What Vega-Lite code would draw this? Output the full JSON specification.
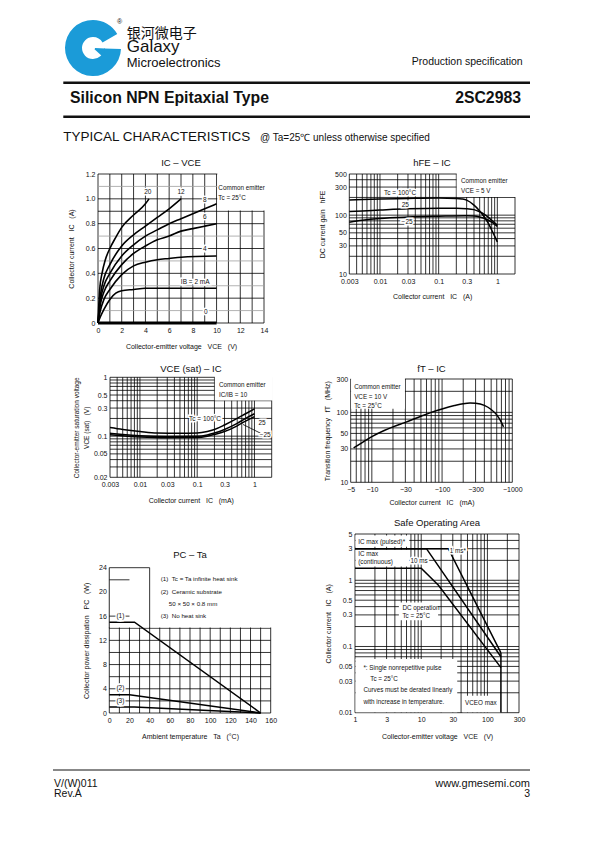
{
"$schema": "https://vega.github.io/schema/vega-lite/v6.json",
"padding": 0,
"background": "white",
"spacing": 0,
"bounds": "flush",
"config": {
  "view": {"stroke": null},
  "font": "Liberation Sans",
  "axis": {"labelFont": "Liberation Sans", "titleFont": "Liberation Sans", "labelFontSize": 7, "titleFontSize": 7, "titleFontWeight": "normal", "labelColor": "#111", "titleColor": "#111", "ticks": false, "domain": false, "grid": false, "labelPadding": 3, "labelFlush": false, "labelOverlap": false},
  "title": {"font": "Liberation Sans", "fontWeight": "normal", "color": "#111", "orient": "top", "frame": "group", "baseline": "alphabetic"},
  "text": {"font": "Liberation Sans", "color": "#111"}
},
"datasets": {
  "one": [{}],
  "g1v": [{"x":0,"y":0,"y2":1.2},{"x":1,"y":0,"y2":1.2},{"x":2,"y":0,"y2":1.2},{"x":3,"y":0,"y2":1.2},{"x":4,"y":0,"y2":1.2},{"x":5,"y":0,"y2":1.2},{"x":6,"y":0,"y2":1.2},{"x":7,"y":0,"y2":1.2},{"x":8,"y":0,"y2":1.2},{"x":9,"y":0,"y2":1.2},{"x":10,"y":0,"y2":1.2},{"x":11,"y":0,"y2":1.2},{"x":12,"y":0,"y2":1.2},{"x":13,"y":0,"y2":1.2},{"x":14,"y":0,"y2":1.2}],
  "g1hk": [{"y":0,"x":0,"x2":14},{"y":0.2,"x":0,"x2":14},{"y":0.4,"x":0,"x2":14},{"y":0.6,"x":0,"x2":14},{"y":0.8,"x":0,"x2":14},{"y":0.9,"x":0,"x2":14},{"y":1,"x":0,"x2":14},{"y":1.2,"x":0,"x2":14}],
  "g1hg": [{"y":0.1,"x":0,"x2":14},{"y":0.3,"x":0,"x2":14},{"y":0.5,"x":0,"x2":14},{"y":0.7,"x":0,"x2":14},{"y":1.1,"x":0,"x2":14}],
  "g2v": [{"x":0.003,"y":10,"y2":500},{"x":0.004,"y":10,"y2":500},{"x":0.005,"y":10,"y2":500},{"x":0.006,"y":10,"y2":500},{"x":0.007,"y":10,"y2":500},{"x":0.008,"y":10,"y2":500},{"x":0.009,"y":10,"y2":500},{"x":0.01,"y":10,"y2":500},{"x":0.02,"y":10,"y2":500},{"x":0.03,"y":10,"y2":500},{"x":0.04,"y":10,"y2":500},{"x":0.05,"y":10,"y2":500},{"x":0.06,"y":10,"y2":500},{"x":0.07,"y":10,"y2":500},{"x":0.08,"y":10,"y2":500},{"x":0.09,"y":10,"y2":500},{"x":0.1,"y":10,"y2":500},{"x":0.2,"y":10,"y2":500},{"x":0.3,"y":10,"y2":500},{"x":0.4,"y":10,"y2":500},{"x":0.5,"y":10,"y2":500},{"x":0.6,"y":10,"y2":500},{"x":0.7,"y":10,"y2":500},{"x":0.8,"y":10,"y2":500},{"x":0.9,"y":10,"y2":500},{"x":1,"y":10,"y2":500},{"x":2,"y":10,"y2":500}],
  "g2h": [{"y":10,"x":0.003,"x2":2},{"y":20,"x":0.003,"x2":2},{"y":30,"x":0.003,"x2":2},{"y":40,"x":0.003,"x2":2},{"y":50,"x":0.003,"x2":2},{"y":60,"x":0.003,"x2":2},{"y":70,"x":0.003,"x2":2},{"y":80,"x":0.003,"x2":2},{"y":90,"x":0.003,"x2":2},{"y":100,"x":0.003,"x2":2},{"y":200,"x":0.003,"x2":2},{"y":300,"x":0.003,"x2":2},{"y":400,"x":0.003,"x2":2},{"y":500,"x":0.003,"x2":2}],
  "g3v": [{"x":0.003,"y":0.02,"y2":1},{"x":0.004,"y":0.02,"y2":1},{"x":0.005,"y":0.02,"y2":1},{"x":0.006,"y":0.02,"y2":1},{"x":0.007,"y":0.02,"y2":1},{"x":0.008,"y":0.02,"y2":1},{"x":0.009,"y":0.02,"y2":1},{"x":0.01,"y":0.02,"y2":1},{"x":0.02,"y":0.02,"y2":1},{"x":0.03,"y":0.02,"y2":1},{"x":0.04,"y":0.02,"y2":1},{"x":0.05,"y":0.02,"y2":1},{"x":0.06,"y":0.02,"y2":1},{"x":0.07,"y":0.02,"y2":1},{"x":0.08,"y":0.02,"y2":1},{"x":0.09,"y":0.02,"y2":1},{"x":0.1,"y":0.02,"y2":1},{"x":0.2,"y":0.02,"y2":1},{"x":0.3,"y":0.02,"y2":1},{"x":0.4,"y":0.02,"y2":1},{"x":0.5,"y":0.02,"y2":1},{"x":0.6,"y":0.02,"y2":1},{"x":0.7,"y":0.02,"y2":1},{"x":0.8,"y":0.02,"y2":1},{"x":0.9,"y":0.02,"y2":1},{"x":1,"y":0.02,"y2":1},{"x":2,"y":0.02,"y2":1}],
  "g3h": [{"y":0.02,"x":0.003,"x2":2},{"y":0.03,"x":0.003,"x2":2},{"y":0.04,"x":0.003,"x2":2},{"y":0.05,"x":0.003,"x2":2},{"y":0.06,"x":0.003,"x2":2},{"y":0.07,"x":0.003,"x2":2},{"y":0.08,"x":0.003,"x2":2},{"y":0.09,"x":0.003,"x2":2},{"y":0.1,"x":0.003,"x2":2},{"y":0.2,"x":0.003,"x2":2},{"y":0.3,"x":0.003,"x2":2},{"y":0.4,"x":0.003,"x2":2},{"y":0.5,"x":0.003,"x2":2},{"y":0.6,"x":0.003,"x2":2},{"y":0.7,"x":0.003,"x2":2},{"y":0.8,"x":0.003,"x2":2},{"y":0.9,"x":0.003,"x2":2},{"y":1,"x":0.003,"x2":2}],
  "g4v": [{"x":5,"y":10,"y2":300},{"x":6,"y":10,"y2":300},{"x":7,"y":10,"y2":300},{"x":8,"y":10,"y2":300},{"x":9,"y":10,"y2":300},{"x":10,"y":10,"y2":300},{"x":20,"y":10,"y2":300},{"x":30,"y":10,"y2":300},{"x":40,"y":10,"y2":300},{"x":50,"y":10,"y2":300},{"x":60,"y":10,"y2":300},{"x":70,"y":10,"y2":300},{"x":80,"y":10,"y2":300},{"x":90,"y":10,"y2":300},{"x":100,"y":10,"y2":300},{"x":200,"y":10,"y2":300},{"x":300,"y":10,"y2":300},{"x":400,"y":10,"y2":300},{"x":500,"y":10,"y2":300},{"x":600,"y":10,"y2":300},{"x":700,"y":10,"y2":300},{"x":800,"y":10,"y2":300},{"x":900,"y":10,"y2":300},{"x":1000,"y":10,"y2":300}],
  "g4h": [{"y":10,"x":5,"x2":1000},{"y":20,"x":5,"x2":1000},{"y":30,"x":5,"x2":1000},{"y":40,"x":5,"x2":1000},{"y":50,"x":5,"x2":1000},{"y":60,"x":5,"x2":1000},{"y":70,"x":5,"x2":1000},{"y":80,"x":5,"x2":1000},{"y":90,"x":5,"x2":1000},{"y":100,"x":5,"x2":1000},{"y":200,"x":5,"x2":1000},{"y":300,"x":5,"x2":1000}],
  "g5v": [{"x":0,"y":0,"y2":24},{"x":10,"y":0,"y2":24},{"x":20,"y":0,"y2":24},{"x":30,"y":0,"y2":24},{"x":40,"y":0,"y2":24},{"x":50,"y":0,"y2":24},{"x":60,"y":0,"y2":24},{"x":70,"y":0,"y2":24},{"x":80,"y":0,"y2":24},{"x":90,"y":0,"y2":24},{"x":100,"y":0,"y2":24},{"x":110,"y":0,"y2":24},{"x":120,"y":0,"y2":24},{"x":130,"y":0,"y2":24},{"x":140,"y":0,"y2":24},{"x":150,"y":0,"y2":24},{"x":160,"y":0,"y2":24}],
  "g5h": [{"y":0,"x":0,"x2":160},{"y":2,"x":0,"x2":160},{"y":4,"x":0,"x2":160},{"y":6,"x":0,"x2":160},{"y":8,"x":0,"x2":160},{"y":10,"x":0,"x2":160},{"y":12,"x":0,"x2":160},{"y":14,"x":0,"x2":160},{"y":16,"x":0,"x2":160},{"y":18,"x":0,"x2":160},{"y":20,"x":0,"x2":160},{"y":22,"x":0,"x2":160},{"y":24,"x":0,"x2":160}],
  "g6v": [{"x":1,"y":0.01,"y2":5},{"x":2,"y":0.01,"y2":5},{"x":3,"y":0.01,"y2":5},{"x":4,"y":0.01,"y2":5},{"x":5,"y":0.01,"y2":5},{"x":6,"y":0.01,"y2":5},{"x":7,"y":0.01,"y2":5},{"x":8,"y":0.01,"y2":5},{"x":9,"y":0.01,"y2":5},{"x":10,"y":0.01,"y2":5},{"x":20,"y":0.01,"y2":5},{"x":30,"y":0.01,"y2":5},{"x":40,"y":0.01,"y2":5},{"x":50,"y":0.01,"y2":5},{"x":60,"y":0.01,"y2":5},{"x":70,"y":0.01,"y2":5},{"x":80,"y":0.01,"y2":5},{"x":90,"y":0.01,"y2":5},{"x":100,"y":0.01,"y2":5},{"x":200,"y":0.01,"y2":5},{"x":300,"y":0.01,"y2":5}],
  "g6h": [{"y":0.01,"x":1,"x2":300},{"y":0.02,"x":1,"x2":300},{"y":0.03,"x":1,"x2":300},{"y":0.04,"x":1,"x2":300},{"y":0.05,"x":1,"x2":300},{"y":0.06,"x":1,"x2":300},{"y":0.07,"x":1,"x2":300},{"y":0.08,"x":1,"x2":300},{"y":0.09,"x":1,"x2":300},{"y":0.1,"x":1,"x2":300},{"y":0.2,"x":1,"x2":300},{"y":0.3,"x":1,"x2":300},{"y":0.4,"x":1,"x2":300},{"y":0.5,"x":1,"x2":300},{"y":0.6,"x":1,"x2":300},{"y":0.7,"x":1,"x2":300},{"y":0.8,"x":1,"x2":300},{"y":0.9,"x":1,"x2":300},{"y":1,"x":1,"x2":300},{"y":2,"x":1,"x2":300},{"y":3,"x":1,"x2":300},{"y":4,"x":1,"x2":300},{"y":5,"x":1,"x2":300}],
  "p1c": [
    {"c":"20","x":0,"y":0},{"c":"20","x":0.14,"y":0.27},{"c":"20","x":0.34,"y":0.4},{"c":"20","x":0.62,"y":0.51},{"c":"20","x":1,"y":0.6},{"c":"20","x":1.5,"y":0.69},{"c":"20","x":2,"y":0.77},{"c":"20","x":3,"y":0.87},{"c":"20","x":4,"y":0.96},{"c":"20","x":4.3,"y":1.0},
    {"c":"12","x":0,"y":0},{"c":"12","x":0.2,"y":0.22},{"c":"12","x":0.5,"y":0.36},{"c":"12","x":1,"y":0.47},{"c":"12","x":2,"y":0.62},{"c":"12","x":3,"y":0.71},{"c":"12","x":4,"y":0.78},{"c":"12","x":5,"y":0.85},{"c":"12","x":6,"y":0.92},{"c":"12","x":7,"y":1.0},
    {"c":"8","x":0,"y":0},{"c":"8","x":0.2,"y":0.18},{"c":"8","x":0.5,"y":0.3},{"c":"8","x":1,"y":0.4},{"c":"8","x":2,"y":0.54},{"c":"8","x":3,"y":0.63},{"c":"8","x":4,"y":0.7},{"c":"8","x":5,"y":0.75},{"c":"8","x":6,"y":0.8},{"c":"8","x":7,"y":0.84},{"c":"8","x":8,"y":0.88},{"c":"8","x":9,"y":0.92},{"c":"8","x":10,"y":0.96},
    {"c":"6","x":0,"y":0},{"c":"6","x":0.2,"y":0.15},{"c":"6","x":0.5,"y":0.25},{"c":"6","x":1,"y":0.34},{"c":"6","x":2,"y":0.47},{"c":"6","x":3,"y":0.56},{"c":"6","x":4,"y":0.62},{"c":"6","x":5,"y":0.67},{"c":"6","x":6,"y":0.7},{"c":"6","x":7,"y":0.74},{"c":"6","x":8,"y":0.76},{"c":"6","x":9,"y":0.78},{"c":"6","x":10,"y":0.8},
    {"c":"4","x":0,"y":0},{"c":"4","x":0.2,"y":0.1},{"c":"4","x":0.5,"y":0.19},{"c":"4","x":1,"y":0.27},{"c":"4","x":2,"y":0.39},{"c":"4","x":3,"y":0.46},{"c":"4","x":4,"y":0.49},{"c":"4","x":5,"y":0.51},{"c":"4","x":6,"y":0.52},{"c":"4","x":7,"y":0.53},{"c":"4","x":10,"y":0.54},
    {"c":"2","x":0,"y":0},{"c":"2","x":0.2,"y":0.05},{"c":"2","x":0.5,"y":0.11},{"c":"2","x":1,"y":0.19},{"c":"2","x":1.5,"y":0.24},{"c":"2","x":2,"y":0.26},{"c":"2","x":3,"y":0.27},{"c":"2","x":4,"y":0.28},{"c":"2","x":10,"y":0.28}
  ],
  "p1l": [{"x":4.2,"y":1.055,"t":"20"},{"x":7.0,"y":1.055,"t":"12"},{"x":9.0,"y":0.99,"t":"8"},{"x":9.0,"y":0.855,"t":"6"},{"x":9.0,"y":0.6,"t":"4"},{"x":8.2,"y":0.33,"t":"IB = 2 mA"},{"x":9.1,"y":0.09,"t":"0"}],
  "p1b": [{"x":10.15,"y":1.09,"t":"Common emitter"},{"x":10.15,"y":1.01,"t":"Tc = 25°C"}],
  "p1t": [{"x":7,"y":1.289,"t":"IC – VCE"}],
  "p2c": [
    {"c":"100","x":0.003,"y":180},{"c":"100","x":0.005,"y":184},{"c":"100","x":0.01,"y":188},{"c":"100","x":0.03,"y":192},{"c":"100","x":0.1,"y":195},{"c":"100","x":0.2,"y":192},{"c":"100","x":0.25,"y":188},{"c":"100","x":0.3,"y":180},{"c":"100","x":0.4,"y":148},{"c":"100","x":0.5,"y":118},{"c":"100","x":0.6,"y":93},{"c":"100","x":0.7,"y":73},{"c":"100","x":0.8,"y":56},{"c":"100","x":0.9,"y":44},{"c":"100","x":1,"y":35},
    {"c":"25","x":0.003,"y":115},{"c":"25","x":0.005,"y":118},{"c":"25","x":0.01,"y":122},{"c":"25","x":0.03,"y":128},{"c":"25","x":0.1,"y":131},{"c":"25","x":0.2,"y":131},{"c":"25","x":0.3,"y":129},{"c":"25","x":0.4,"y":124},{"c":"25","x":0.5,"y":114},{"c":"25","x":0.6,"y":103},{"c":"25","x":0.7,"y":92},{"c":"25","x":0.8,"y":82},{"c":"25","x":0.9,"y":74},{"c":"25","x":1,"y":67},
    {"c":"-25","x":0.003,"y":76},{"c":"-25","x":0.005,"y":82},{"c":"-25","x":0.01,"y":88},{"c":"-25","x":0.03,"y":93},{"c":"-25","x":0.1,"y":96},{"c":"-25","x":0.3,"y":98},{"c":"-25","x":0.4,"y":97},{"c":"-25","x":0.5,"y":93},{"c":"-25","x":0.6,"y":88},{"c":"-25","x":0.7,"y":82},{"c":"-25","x":0.8,"y":76},{"c":"-25","x":0.9,"y":70},{"c":"-25","x":1,"y":64}
  ],
  "p2l": [{"x":0.022,"y":235,"t":"Tc = 100°C"},{"x":0.027,"y":150,"t":"25"},{"x":0.029,"y":76,"t":"−25"}],
  "p2b": [{"x":0.24,"y":380,"t":"Common emitter"},{"x":0.24,"y":262,"t":"VCE = 5 V"}],
  "p2t": [{"x":0.077,"y":769,"t":"hFE – IC"}],
  "p3c": [
    {"c":"100","x":0.003,"y":0.14},{"c":"100","x":0.005,"y":0.13},{"c":"100","x":0.01,"y":0.12},{"c":"100","x":0.02,"y":0.113},{"c":"100","x":0.05,"y":0.112},{"c":"100","x":0.1,"y":0.113},{"c":"100","x":0.15,"y":0.12},{"c":"100","x":0.2,"y":0.13},{"c":"100","x":0.3,"y":0.155},{"c":"100","x":0.5,"y":0.2},{"c":"100","x":0.7,"y":0.24},{"c":"100","x":1,"y":0.29},
    {"c":"25","x":0.003,"y":0.112},{"c":"25","x":0.005,"y":0.107},{"c":"25","x":0.01,"y":0.102},{"c":"25","x":0.03,"y":0.099},{"c":"25","x":0.1,"y":0.1},{"c":"25","x":0.15,"y":0.105},{"c":"25","x":0.2,"y":0.113},{"c":"25","x":0.3,"y":0.13},{"c":"25","x":0.5,"y":0.165},{"c":"25","x":0.7,"y":0.2},{"c":"25","x":1,"y":0.24},
    {"c":"-25","x":0.003,"y":0.106},{"c":"-25","x":0.01,"y":0.097},{"c":"-25","x":0.03,"y":0.094},{"c":"-25","x":0.1,"y":0.095},{"c":"-25","x":0.15,"y":0.1},{"c":"-25","x":0.2,"y":0.107},{"c":"-25","x":0.3,"y":0.12},{"c":"-25","x":0.5,"y":0.15},{"c":"-25","x":0.7,"y":0.18},{"c":"-25","x":1,"y":0.215}
  ],
  "p3l": [{"x":0.137,"y":0.192,"t":"Tc = 100°C"},{"x":1.36,"y":0.17,"t":"25"},{"x":1.54,"y":0.105,"t":"−25"}],
  "p3b": [{"x":0.24,"y":0.74,"t":"Common emitter"},{"x":0.24,"y":0.5,"t":"IC/IB = 10"}],
  "p3t": [{"x":0.0776,"y":1.367,"t":"VCE (sat) – IC"}],
  "p4c": [{"x":5.5,"y":31},{"x":7,"y":36},{"x":10,"y":45},{"x":15,"y":55},{"x":20,"y":62},{"x":30,"y":72},{"x":50,"y":88},{"x":70,"y":100},{"x":100,"y":112},{"x":150,"y":125},{"x":200,"y":133},{"x":250,"y":136},{"x":300,"y":135},{"x":400,"y":126},{"x":500,"y":110},{"x":600,"y":92},{"x":700,"y":72},{"x":750,"y":62}],
  "p4b": [{"x":5.6,"y":230,"t":"Common emitter"},{"x":5.6,"y":166,"t":"VCE = 10 V"},{"x":5.6,"y":124,"t":"Tc = 25°C"}],
  "p4t": [{"x":70.8,"y":413,"t":"fT – IC"}],
  "p5c": [{"c":"1","x":0,"y":15},{"c":"1","x":25,"y":15},{"c":"1","x":150,"y":0},{"c":"2","x":0,"y":3},{"c":"2","x":20,"y":3},{"c":"2","x":150,"y":0},{"c":"3","x":0,"y":1},{"c":"3","x":25,"y":1},{"c":"3","x":150,"y":0}],
  "p5s": [{"x":0,"y":24,"x2":40,"y2":24},{"x":0,"y":22,"x2":20,"y2":22},{"x":0,"y":14,"x2":0,"y2":24},{"x":40,"y":14,"x2":40,"y2":24},{"x":0,"y":16,"x2":20,"y2":16}],
  "p5l": [{"x":11,"y":16,"t":"(1)"},{"x":11,"y":4.1,"t":"(2)"},{"x":11,"y":2,"t":"(3)"}],
  "p5b": [{"x":51,"y":22.2,"t":"(1)\u00a0\u00a0Tc = Ta infinite heat sink"},{"x":51,"y":20,"t":"(2)\u00a0\u00a0Ceramic substrate"},{"x":59,"y":18,"t":"50 × 50 × 0.8 mm"},{"x":51,"y":16,"t":"(3)\u00a0\u00a0No heat sink"}],
  "p5t": [{"x":80,"y":26.1,"t":"PC – Ta"}],
  "p6c": [{"c":"10ms","x":1,"y":3},{"c":"10ms","x":12,"y":3},{"c":"10ms","x":160,"y":0.07},{"c":"1ms","x":1,"y":3},{"c":"1ms","x":25.7,"y":3},{"c":"1ms","x":160,"y":0.08},{"c":"dc","x":1,"y":1.52},{"c":"dc","x":10,"y":1.52},{"c":"dc","x":18.2,"y":0.84},{"c":"dc","x":160,"y":0.048}],
  "p6r": [{"x":1.02,"x2":6.6,"y":3.2,"y2":4.75},{"x":1.02,"x2":6.6,"y":1.62,"y2":2.88},{"x":4.6,"x2":18,"y":0.25,"y2":0.46},{"x":1.02,"x2":35,"y":0.0102,"y2":0.065},{"x":42,"x2":158,"y":0.0102,"y2":0.018}],
  "p6h": [{"x":6.9,"y":1.96,"t":"10 ms"},{"x":27,"y":2.75,"t":"1 ms*"}],
  "p6t": [{"x":1.12,"y":3.75,"t":"IC max (pulsed)*"},{"x":1.12,"y":2.48,"t":"IC max"},{"x":1.12,"y":1.87,"t":"(continuous)"},{"x":5.2,"y":0.375,"t":"DC operation"},{"x":5.2,"y":0.288,"t":"Tc = 25°C"},{"x":1.34,"y":0.048,"t":"*: Single nonrepetitive pulse"},{"x":1.7,"y":0.0326,"t":"Tc = 25°C"},{"x":1.34,"y":0.0217,"t":"Curves must be derated linearly"},{"x":1.34,"y":0.0147,"t":"with increase in temperature."},{"x":46,"y":0.0142,"t":"VCEO max"}],
  "p6tt": [{"x":17.3,"y":7.25,"t":"Safe Operating Area"}]
},
"vconcat": [
  {"width": 595, "height": 842,
   "resolve": {"scale": {"x": "independent", "y": "independent"}, "axis": {"x": "independent", "y": "independent"}},
   "layer": [
    {"data": {"values": [{"r": 0}, {"r": 1}]}, "mark": {"type": "rule", "color": "#111", "strokeWidth": 2.5},
     "encoding": {"x": {"datum": 0, "type": "quantitative", "scale": {"domain": [0, 1], "range": [63.3, 530], "nice": false, "zero": false}, "axis": null}, "x2": {"datum": 1},
       "y": {"field": "r", "type": "quantitative", "scale": {"domain": [0, 1], "range": [82.7, 116.7], "nice": false, "zero": false}, "axis": null}}},
    {"data": {"values": [{"r": 0}]}, "mark": {"type": "rule", "color": "#111", "strokeWidth": 1},
     "encoding": {"x": {"datum": 0, "type": "quantitative", "scale": {"domain": [0, 1], "range": [53, 530], "nice": false, "zero": false}, "axis": null}, "x2": {"datum": 1},
       "y": {"field": "r", "type": "quantitative", "scale": {"domain": [0, 1], "range": [770, 771], "nice": false, "zero": false}, "axis": null}}},
    {"encoding": {"x": {"datum": 0, "type": "quantitative", "scale": {"domain": [0, 1], "range": [93, 121], "nice": false, "zero": false}, "axis": null},
       "y": {"datum": 0, "type": "quantitative", "scale": {"domain": [0, 1], "range": [48, 76], "nice": false, "zero": false}, "axis": null}},
     "layer": [
      {"data": {"values": [{"p":"a","v":60,"k":1},{"p":"g","v":32,"k":2},{"p":"b","v":268,"k":3}]},
       "mark": {"type": "arc", "innerRadius": 11, "outerRadius": 28},
       "encoding": {"theta": {"field": "v", "type": "quantitative", "stack": true}, "order": {"field": "k"},
         "color": {"field": "p", "type": "nominal", "scale": {"domain": ["a","g","b","s","bar","r"], "range": ["#1b9bd8","transparent","#1b9bd8","transparent","#1b9bd8","transparent"]}, "legend": null}}},
      {"data": {"values": [{"p":"s","v":92,"k":1},{"p":"bar","v":40,"k":2},{"p":"r","v":228,"k":3}]},
       "mark": {"type": "arc", "innerRadius": 2, "outerRadius": 12},
       "encoding": {"theta": {"field": "v", "type": "quantitative", "stack": true}, "order": {"field": "k"},
         "color": {"field": "p", "type": "nominal", "scale": {"domain": ["a","g","b","s","bar","r"], "range": ["#1b9bd8","transparent","#1b9bd8","transparent","#1b9bd8","transparent"]}, "legend": null}}}
     ]},

    {"encoding": {
       "x": {"field": "x", "type": "quantitative", "scale": {"domain": [0, 14], "range": [98, 264], "nice": false, "zero": false},
         "axis": {"orient": "bottom", "offset": -519, "values": [0,2,4,6,8,10,12,14], "format": "d", "title": "Collector-emitter voltage\u00a0\u00a0\u00a0VCE\u00a0\u00a0\u00a0(V)", "titlePadding": 9.5}},
       "y": {"field": "y", "type": "quantitative", "scale": {"domain": [0, 1.2], "range": [323, 174], "nice": false, "zero": false},
         "axis": {"orient": "left", "offset": -98, "values": [0,0.2,0.4,0.6,0.8,1,1.2], "labelExpr": "datum.value == 0 ? '0' : format(datum.value, '.1f')", "title": "Collector current\u00a0\u00a0\u00a0IC\u00a0\u00a0\u00a0(A)", "titlePadding": 11}}
     },
     "layer": [
       {"data": {"name": "g1v"}, "mark": {"type": "rule", "color": "#000", "strokeWidth": 0.8}, "encoding": {"y2": {"field": "y2"}}},
       {"data": {"name": "g1hk"}, "mark": {"type": "rule", "color": "#000", "strokeWidth": 0.8}, "encoding": {"x2": {"field": "x2"}}},
       {"data": {"name": "g1hg"}, "mark": {"type": "rule", "color": "#a0a0a0", "strokeWidth": 0.8}, "encoding": {"x2": {"field": "x2"}}},
       {"data": {"values": [{"x": 10.06, "x2": 14.4, "y": 0.906, "y2": 1.23}]}, "mark": {"type": "rect", "color": "white"}, "encoding": {"x2": {"field": "x2"}, "y2": {"field": "y2"}}},
       {"data": {"name": "p1c"}, "mark": {"type": "line", "interpolate": "monotone", "color": "#000", "strokeWidth": 1.6}, "encoding": {"detail": {"field": "c"}}},
       {"data": {"values": [{"x": 0, "y": 0}, {"x": 10, "y": 0}]}, "mark": {"type": "line", "color": "#000", "strokeWidth": 3}, "encoding": {}},
       {"data": {"name": "p1l"}, "mark": {"type": "text", "align": "center", "baseline": "middle", "fontSize": 6.5, "color": "white", "stroke": "white", "strokeWidth": 3}, "encoding": {"text": {"field": "t"}}},
       {"data": {"name": "p1l"}, "mark": {"type": "text", "align": "center", "baseline": "middle", "fontSize": 6.5, "color": "#111"}, "encoding": {"text": {"field": "t"}}},
       {"data": {"name": "p1b"}, "mark": {"type": "text", "align": "left", "baseline": "middle", "fontSize": 6.3, "color": "#111"}, "encoding": {"text": {"field": "t"}}},
       {"data": {"name": "p1t"}, "mark": {"type": "text", "align": "center", "baseline": "middle", "fontSize": 9.5, "color": "#111"}, "encoding": {"text": {"field": "t"}}}
     ]},

    {"encoding": {
       "x": {"field": "x", "type": "quantitative", "scale": {"type": "log", "domain": [0.003, 2], "range": [349.3, 515], "nice": false},
         "axis": {"orient": "bottom", "offset": -568, "values": [0.003,0.01,0.03,0.1,0.3,1], "format": "~g", "title": "Collector current\u00a0\u00a0\u00a0IC\u00a0\u00a0\u00a0(A)", "titlePadding": 8.5}},
       "y": {"field": "y", "type": "quantitative", "scale": {"type": "log", "domain": [10, 500], "range": [274, 174], "nice": false},
         "axis": {"orient": "left", "offset": -349.3, "values": [10,30,50,100,300,500], "format": "d", "title": "DC current gain\u00a0\u00a0\u00a0hFE", "titlePadding": 9}}
     },
     "layer": [
       {"data": {"name": "g2v"}, "mark": {"type": "rule", "color": "#000", "strokeWidth": 0.8}, "encoding": {"y2": {"field": "y2"}}},
       {"data": {"name": "g2h"}, "mark": {"type": "rule", "color": "#000", "strokeWidth": 0.8}, "encoding": {"x2": {"field": "x2"}}},
       {"data": {"values": [{"x": 0.203, "x2": 2.1, "y": 203, "y2": 520}]}, "mark": {"type": "rect", "color": "white"}, "encoding": {"x2": {"field": "x2"}, "y2": {"field": "y2"}}},
       {"data": {"name": "p2c"}, "mark": {"type": "line", "interpolate": "monotone", "color": "#000", "strokeWidth": 1.5}, "encoding": {"detail": {"field": "c"}}},
       {"data": {"name": "p2l"}, "mark": {"type": "text", "align": "center", "baseline": "middle", "fontSize": 6.5, "color": "white", "stroke": "white", "strokeWidth": 3}, "encoding": {"text": {"field": "t"}}},
       {"data": {"name": "p2l"}, "mark": {"type": "text", "align": "center", "baseline": "middle", "fontSize": 6.5, "color": "#111"}, "encoding": {"text": {"field": "t"}}},
       {"data": {"name": "p2b"}, "mark": {"type": "text", "align": "left", "baseline": "middle", "fontSize": 6.3, "color": "#111"}, "encoding": {"text": {"field": "t"}}},
       {"data": {"name": "p2t"}, "mark": {"type": "text", "align": "center", "baseline": "middle", "fontSize": 9.5, "color": "#111"}, "encoding": {"text": {"field": "t"}}}
     ]},

    {"encoding": {
       "x": {"field": "x", "type": "quantitative", "scale": {"type": "log", "domain": [0.003, 2], "range": [110, 271.7], "nice": false},
         "axis": {"orient": "bottom", "offset": -364.7, "values": [0.003,0.01,0.03,0.1,0.3,1], "format": "~g", "title": "Collector current\u00a0\u00a0\u00a0IC\u00a0\u00a0\u00a0(mA)", "titlePadding": 9}},
       "y": {"field": "y", "type": "quantitative", "scale": {"type": "log", "domain": [0.02, 1], "range": [477.3, 377.3], "nice": false},
         "axis": {"orient": "left", "offset": -110, "values": [0.02,0.05,0.1,0.3,0.5,1], "format": "~g", "title": ["Collector-emitter saturation voltage", "VCE (sat)\u00a0\u00a0\u00a0(V)"], "titleFontSize": 6.5, "titleLineHeight": 10, "titlePadding": 3.5}}
     },
     "layer": [
       {"data": {"name": "g3v"}, "mark": {"type": "rule", "color": "#000", "strokeWidth": 0.8}, "encoding": {"y2": {"field": "y2"}}},
       {"data": {"name": "g3h"}, "mark": {"type": "rule", "color": "#000", "strokeWidth": 0.8}, "encoding": {"x2": {"field": "x2"}}},
       {"data": {"values": [{"x": 0.203, "x2": 2.1, "y": 0.405, "y2": 1.05}]}, "mark": {"type": "rect", "color": "white"}, "encoding": {"x2": {"field": "x2"}, "y2": {"field": "y2"}}},
       {"data": {"name": "p3c"}, "mark": {"type": "line", "interpolate": "monotone", "color": "#000", "strokeWidth": 1.5}, "encoding": {"detail": {"field": "c"}}},
       {"data": {"values": [{"x": 1.28, "y": 0.112, "x2": 0.63, "y2": 0.158}]}, "mark": {"type": "rule", "color": "#000", "strokeWidth": 0.8}, "encoding": {"x2": {"field": "x2"}, "y2": {"field": "y2"}}},
       {"data": {"name": "p3l"}, "mark": {"type": "text", "align": "center", "baseline": "middle", "fontSize": 6.5, "color": "white", "stroke": "white", "strokeWidth": 3}, "encoding": {"text": {"field": "t"}}},
       {"data": {"name": "p3l"}, "mark": {"type": "text", "align": "center", "baseline": "middle", "fontSize": 6.5, "color": "#111"}, "encoding": {"text": {"field": "t"}}},
       {"data": {"name": "p3b"}, "mark": {"type": "text", "align": "left", "baseline": "middle", "fontSize": 6.3, "color": "#111"}, "encoding": {"text": {"field": "t"}}},
       {"data": {"name": "p3t"}, "mark": {"type": "text", "align": "center", "baseline": "middle", "fontSize": 9.5, "color": "#111"}, "encoding": {"text": {"field": "t"}}}
     ]},

    {"encoding": {
       "x": {"field": "x", "type": "quantitative", "scale": {"type": "log", "domain": [5, 1000], "range": [350.7, 512.3], "nice": false},
         "axis": {"orient": "bottom", "offset": -359.7, "values": [5,10,30,100,300,1000], "labelExpr": "'−' + format(datum.value, 'd')", "title": "Collector current\u00a0\u00a0\u00a0IC\u00a0\u00a0\u00a0(mA)", "titlePadding": 6}},
       "y": {"field": "y", "type": "quantitative", "scale": {"type": "log", "domain": [10, 300], "range": [482.3, 379], "nice": false},
         "axis": {"orient": "left", "offset": -350.7, "values": [10,30,50,100,300], "format": "d", "title": "Transition frequency\u00a0\u00a0\u00a0fT\u00a0\u00a0\u00a0(MHz)", "titlePadding": 5.5}}
     },
     "layer": [
       {"data": {"name": "g4v"}, "mark": {"type": "rule", "color": "#000", "strokeWidth": 0.8}, "encoding": {"y2": {"field": "y2"}}},
       {"data": {"name": "g4h"}, "mark": {"type": "rule", "color": "#000", "strokeWidth": 0.8}, "encoding": {"x2": {"field": "x2"}}},
       {"data": {"values": [{"x": 5.06, "x2": 29.6, "y": 113, "y2": 310}]}, "mark": {"type": "rect", "color": "white"}, "encoding": {"x2": {"field": "x2"}, "y2": {"field": "y2"}}},
       {"data": {"name": "p4c"}, "mark": {"type": "line", "interpolate": "monotone", "color": "#000", "strokeWidth": 1.5}, "encoding": {}},
       {"data": {"name": "p4b"}, "mark": {"type": "text", "align": "left", "baseline": "middle", "fontSize": 6.3, "color": "#111"}, "encoding": {"text": {"field": "t"}}},
       {"data": {"name": "p4t"}, "mark": {"type": "text", "align": "center", "baseline": "middle", "fontSize": 9.5, "color": "#111"}, "encoding": {"text": {"field": "t"}}}
     ]},

    {"encoding": {
       "x": {"field": "x", "type": "quantitative", "scale": {"domain": [0, 160], "range": [109.3, 270.7], "nice": false, "zero": false},
         "axis": {"orient": "bottom", "offset": -129, "values": [0,20,40,60,80,100,120,140,160], "format": "d", "title": "Ambient temperature\u00a0\u00a0\u00a0Ta\u00a0\u00a0\u00a0(°C)", "titlePadding": 9.5}},
       "y": {"field": "y", "type": "quantitative", "scale": {"domain": [0, 24], "range": [713, 567.7], "nice": false, "zero": false},
         "axis": {"orient": "left", "offset": -109.3, "values": [0,4,8,12,16,20,24], "format": "d", "title": "Collector power dissipation\u00a0\u00a0\u00a0PC\u00a0\u00a0\u00a0(W)", "titlePadding": 9}}
     },
     "layer": [
       {"data": {"name": "g5v"}, "mark": {"type": "rule", "color": "#000", "strokeWidth": 0.8}, "encoding": {"y2": {"field": "y2"}}},
       {"data": {"name": "g5h"}, "mark": {"type": "rule", "color": "#000", "strokeWidth": 0.8}, "encoding": {"x2": {"field": "x2"}}},
       {"data": {"values": [{"x": -1, "x2": 162, "y": 14.12, "y2": 24.6}]}, "mark": {"type": "rect", "color": "white"}, "encoding": {"x2": {"field": "x2"}, "y2": {"field": "y2"}}},
       {"data": {"name": "p5s"}, "mark": {"type": "rule", "color": "#000", "strokeWidth": 0.8}, "encoding": {"x2": {"field": "x2"}, "y2": {"field": "y2"}}},
       {"data": {"name": "p5c"}, "mark": {"type": "line", "color": "#000", "strokeWidth": 1.5}, "encoding": {"detail": {"field": "c"}}},
       {"data": {"name": "p5l"}, "mark": {"type": "text", "align": "center", "baseline": "middle", "fontSize": 6.5, "color": "white", "stroke": "white", "strokeWidth": 3}, "encoding": {"text": {"field": "t"}}},
       {"data": {"name": "p5l"}, "mark": {"type": "text", "align": "center", "baseline": "middle", "fontSize": 6.5, "color": "#111"}, "encoding": {"text": {"field": "t"}}},
       {"data": {"name": "p5b"}, "mark": {"type": "text", "align": "left", "baseline": "middle", "fontSize": 6.2, "color": "#111"}, "encoding": {"text": {"field": "t"}}},
       {"data": {"name": "p5t"}, "mark": {"type": "text", "align": "center", "baseline": "middle", "fontSize": 9.5, "color": "#111"}, "encoding": {"text": {"field": "t"}}}
     ]},

    {"encoding": {
       "x": {"field": "x", "type": "quantitative", "scale": {"type": "log", "domain": [1, 300], "range": [355, 519], "nice": false},
         "axis": {"orient": "bottom", "offset": -129.3, "values": [1,3,10,30,100,300], "format": "d", "title": "Collector-emitter voltage\u00a0\u00a0\u00a0VCE\u00a0\u00a0\u00a0(V)", "titlePadding": 9.8}},
       "y": {"field": "y", "type": "quantitative", "scale": {"type": "log", "domain": [0.01, 5], "range": [712.7, 534], "nice": false},
         "axis": {"orient": "left", "offset": -355, "values": [0.01,0.03,0.05,0.1,0.3,0.5,1,3,5], "format": "~g", "title": "Collector current\u00a0\u00a0\u00a0IC\u00a0\u00a0\u00a0(A)", "titlePadding": 7}}
     },
     "layer": [
       {"data": {"name": "g6v"}, "mark": {"type": "rule", "color": "#000", "strokeWidth": 0.8}, "encoding": {"y2": {"field": "y2"}}},
       {"data": {"name": "g6h"}, "mark": {"type": "rule", "color": "#000", "strokeWidth": 0.8}, "encoding": {"x2": {"field": "x2"}}},
       {"data": {"name": "p6r"}, "mark": {"type": "rect", "color": "white"}, "encoding": {"x2": {"field": "x2"}, "y2": {"field": "y2"}}},
       {"data": {"name": "p6c"}, "mark": {"type": "line", "color": "#000", "strokeWidth": 1.5}, "encoding": {"detail": {"field": "c"}}},
       {"data": {"values": [{"x": 160, "y": 0.08, "y2": 0.0101}]}, "mark": {"type": "rule", "color": "#000", "strokeWidth": 1.5}, "encoding": {"y2": {"field": "y2"}}},
       {"data": {"name": "p6h"}, "mark": {"type": "text", "align": "left", "baseline": "middle", "fontSize": 6.3, "color": "white", "stroke": "white", "strokeWidth": 3}, "encoding": {"text": {"field": "t"}}},
       {"data": {"name": "p6h"}, "mark": {"type": "text", "align": "left", "baseline": "middle", "fontSize": 6.3, "color": "#111"}, "encoding": {"text": {"field": "t"}}},
       {"data": {"name": "p6t"}, "mark": {"type": "text", "align": "left", "baseline": "middle", "fontSize": 6.3, "color": "#111"}, "encoding": {"text": {"field": "t"}}},
       {"data": {"name": "p6tt"}, "mark": {"type": "text", "align": "center", "baseline": "middle", "fontSize": 9.5, "color": "#111"}, "encoding": {"text": {"field": "t"}}}
     ]}
   ]},
  {"width":595,"height":1,"data":{"name":"one"},"mark":{"type":"rect","opacity":0},"encoding":{},
   "title":{"text":"®","anchor":"start","dx":117,"offset":817,"fontSize":7}},
  {"width":595,"height":1,"data":{"name":"one"},"mark":{"type":"rect","opacity":0},"encoding":{},
   "title":{"text":"银河微电子","anchor":"start","dx":126.7,"offset":802,"font":"Noto Sans CJK SC","fontSize":14}},
  {"width":595,"height":1,"data":{"name":"one"},"mark":{"type":"rect","opacity":0},"encoding":{},
   "title":{"text":"Galaxy","anchor":"start","dx":126.7,"offset":787.7,"fontSize":17}},
  {"width":595,"height":1,"data":{"name":"one"},"mark":{"type":"rect","opacity":0},"encoding":{},
   "title":{"text":"Microelectronics","anchor":"start","dx":126.7,"offset":775.3,"fontSize":13}},
  {"width":595,"height":1,"data":{"name":"one"},"mark":{"type":"rect","opacity":0},"encoding":{},
   "title":{"text":"Production specification","anchor":"end","dx":-72.3,"offset":779,"fontSize":10.5}},
  {"width":595,"height":1,"data":{"name":"one"},"mark":{"type":"rect","opacity":0},"encoding":{},
   "title":{"text":"Silicon NPN Epitaxial Type","anchor":"start","dx":70,"offset":740,"fontSize":15.8,"fontWeight":"bold"}},
  {"width":595,"height":1,"data":{"name":"one"},"mark":{"type":"rect","opacity":0},"encoding":{},
   "title":{"text":"2SC2983","anchor":"end","dx":-74,"offset":741,"fontSize":15.8,"fontWeight":"bold"}},
  {"width":595,"height":1,"data":{"name":"one"},"mark":{"type":"rect","opacity":0},"encoding":{},
   "title":{"text":"TYPICAL CHARACTERISTICS","anchor":"start","dx":63.3,"offset":706,"fontSize":13.5}},
  {"width":595,"height":1,"data":{"name":"one"},"mark":{"type":"rect","opacity":0},"encoding":{},
   "title":{"text":"@ Ta=25℃ unless otherwise specified","anchor":"start","dx":260,"offset":707,"fontSize":10}},
  {"width":595,"height":1,"data":{"name":"one"},"mark":{"type":"rect","opacity":0},"encoding":{},
   "title":{"text":"V/(W)011","anchor":"start","dx":54,"offset":62,"fontSize":10.5}},
  {"width":595,"height":1,"data":{"name":"one"},"mark":{"type":"rect","opacity":0},"encoding":{},
   "title":{"text":"Rev.A","anchor":"start","dx":54,"offset":53,"fontSize":10.5}},
  {"width":595,"height":1,"data":{"name":"one"},"mark":{"type":"rect","opacity":0},"encoding":{},
   "title":{"text":"www.gmesemi.com","anchor":"end","dx":-65,"offset":64,"fontSize":11}},
  {"width":595,"height":1,"data":{"name":"one"},"mark":{"type":"rect","opacity":0},"encoding":{},
   "title":{"text":"3","anchor":"end","dx":-65,"offset":55,"fontSize":10.5}}
]
}
